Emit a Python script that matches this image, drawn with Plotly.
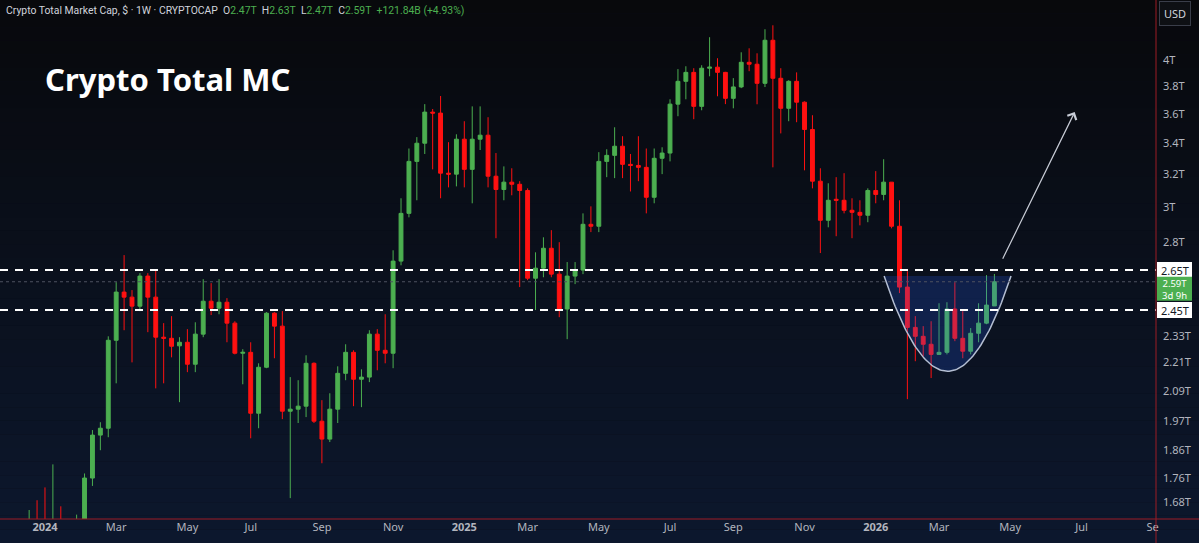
import numpy as np
import pandas as pd
import plotly.graph_objects as go

# ---------------- data (weekly candles, values in trillions USD) ----------------
start_week = "2023-11-27"
opens = [1.46, 1.51, 1.59, 1.57, 1.61, 1.60, 1.58, 1.60, 1.57, 1.54,
         1.58, 1.762, 1.917, 1.943, 2.309, 2.538, 2.513, 2.469, 2.619, 2.513,
         2.323, 2.318, 2.284, 2.300, 2.203, 2.337, 2.493, 2.459, 2.488, 2.388,
         2.251, 2.255, 2.001, 2.190, 2.435, 2.374, 2.009, 2.017, 2.029, 2.207,
         1.970, 1.902, 2.017, 2.164, 2.255, 2.139, 2.148, 2.337, 2.264, 2.251,
         2.697, 2.962, 3.280, 3.399, 3.613, 3.606, 3.205, 3.199, 3.426, 3.229,
         3.426, 3.453, 3.186, 3.104, 3.149, 3.136, 3.098, 2.608, 2.660, 2.766,
         2.629, 2.455, 2.619, 2.650, 2.899, 2.888, 3.280, 3.319, 3.379, 3.261,
         3.254, 3.242, 3.057, 3.300, 3.334, 3.670, 3.838, 3.906, 3.654, 3.938,
         3.946, 3.906, 3.712, 3.796, 3.984, 3.969, 3.823, 4.160, 3.861, 3.640,
         3.838, 3.684, 3.492, 3.155, 2.922, 3.045, 3.039, 2.980, 2.968, 2.951,
         3.098, 3.074, 3.149, 2.888, 2.563, 2.368, 2.327, 2.291, 2.246, 2.255,
         2.455, 2.318, 2.260, 2.341, 2.388, 2.47]
highs = [1.53, 1.625, 1.61, 1.655, 1.687, 1.73, 1.81, 1.667, 1.60, 1.64,
         1.778, 1.936, 1.966, 2.327, 2.588, 2.729, 2.548, 2.634, 2.634, 2.650,
         2.388, 2.421, 2.323, 2.360, 2.392, 2.603, 2.583, 2.603, 2.508, 2.397,
         2.269, 2.300, 2.207, 2.440, 2.440, 2.445, 2.148, 2.135, 2.242, 2.211,
         2.053, 2.081, 2.194, 2.291, 2.264, 2.181, 2.355, 2.360, 2.430, 2.755,
         3.051, 3.364, 3.440, 3.670, 3.635, 3.729, 3.406, 3.459, 3.549, 3.654,
         3.654, 3.577, 3.334, 3.248, 3.236, 3.155, 3.111, 2.744, 2.826, 2.866,
         2.799, 2.692, 2.692, 2.962, 3.003, 3.340, 3.359, 3.507, 3.446, 3.328,
         3.446, 3.364, 3.364, 3.372, 3.705, 3.931, 3.953, 3.938, 3.961, 4.185,
         4.016, 3.910, 3.862, 4.063, 4.095, 4.055, 4.251, 4.284, 3.938, 3.846,
         3.906, 3.690, 3.591, 3.236, 3.142, 3.180, 3.205, 3.051, 3.039, 3.111,
         3.218, 3.294, 3.150, 3.039, 2.644, 2.421, 2.374, 2.397, 2.483, 2.488,
         2.588, 2.445, 2.365, 2.483, 2.624, 2.63]
lows = [1.44, 1.49, 1.52, 1.54, 1.56, 1.52, 1.54, 1.55, 1.49, 1.52,
        1.57, 1.735, 1.861, 1.909, 2.122, 2.355, 2.211, 2.445, 2.346, 2.101,
        2.122, 2.233, 2.045, 2.169, 2.169, 2.323, 2.426, 2.430, 2.300, 2.246,
        2.118, 1.905, 1.943, 2.186, 2.229, 1.978, 1.694, 1.963, 1.986, 1.963,
        1.814, 1.891, 1.963, 2.135, 2.029, 2.025, 2.127, 2.177, 2.207, 2.186,
        2.675, 2.939, 3.039, 3.328, 3.229, 3.051, 3.117, 3.123, 3.117, 3.021,
        3.354, 3.117, 2.821, 3.039, 3.069, 2.563, 2.598, 2.450, 2.613, 2.613,
        2.416, 2.314, 2.578, 2.629, 2.855, 2.855, 3.180, 3.174, 3.174, 3.092,
        3.155, 2.962, 3.021, 3.199, 3.280, 3.584, 3.705, 3.563, 3.626, 3.876,
        3.727, 3.670, 3.640, 3.787, 3.915, 3.669, 3.795, 3.242, 3.465, 3.549,
        3.542, 3.223, 3.111, 2.740, 2.882, 2.832, 2.962, 2.821, 2.893, 2.911,
        3.021, 3.039, 2.876, 2.533, 2.057, 2.216, 2.237, 2.144, 2.246, 2.246,
        2.305, 2.229, 2.246, 2.300, 2.383, 2.47]
closes = [1.51, 1.59, 1.57, 1.61, 1.60, 1.58, 1.60, 1.57, 1.54, 1.58,
          1.762, 1.917, 1.943, 2.309, 2.538, 2.513, 2.469, 2.619, 2.513, 2.323,
          2.318, 2.282, 2.300, 2.203, 2.337, 2.493, 2.459, 2.488, 2.388, 2.251,
          2.255, 2.001, 2.190, 2.435, 2.374, 2.009, 2.017, 2.029, 2.207, 1.970,
          1.902, 2.017, 2.164, 2.255, 2.139, 2.148, 2.337, 2.264, 2.251, 2.697,
          2.962, 3.280, 3.399, 3.613, 3.606, 3.205, 3.199, 3.426, 3.229, 3.426,
          3.453, 3.186, 3.104, 3.149, 3.136, 3.098, 2.608, 2.660, 2.766, 2.629,
          2.455, 2.619, 2.650, 2.899, 2.888, 3.280, 3.319, 3.379, 3.261, 3.254,
          3.242, 3.057, 3.300, 3.334, 3.670, 3.838, 3.906, 3.654, 3.938, 3.946,
          3.906, 3.712, 3.796, 3.984, 3.969, 3.823, 4.160, 3.861, 3.640, 3.838,
          3.684, 3.492, 3.155, 2.922, 3.039, 3.039, 2.980, 2.968, 2.951, 3.098,
          3.074, 3.149, 2.888, 2.563, 2.368, 2.327, 2.291, 2.246, 2.255, 2.455,
          2.318, 2.260, 2.341, 2.388, 2.474, 2.59]
dates = pd.date_range(start_week, periods=len(opens), freq="7D")

levels = [2.65, 2.45]
last_price = 2.59
countdown = "3d 9h"

y_ticks = [1.68, 1.76, 1.86, 1.97, 2.09, 2.21, 2.33, 2.8, 3.0, 3.2, 3.4, 3.6, 3.8, 4.0]
y_tick_text = ["1.68T", "1.76T", "1.86T", "1.97T", "2.09T", "2.21T", "2.33T",
               "2.8T", "3T", "3.2T", "3.4T", "3.6T", "3.8T", "4T"]
x_ticks = ["2024-01-01", "2024-03-04", "2024-05-06", "2024-07-01", "2024-09-02",
           "2024-11-04", "2025-01-06", "2025-03-03", "2025-05-05", "2025-07-07",
           "2025-09-01", "2025-11-03", "2026-01-05", "2026-03-02", "2026-05-04",
           "2026-07-06", "2026-09-07"]
x_tick_text = ["<b>2024</b>", "Mar", "May", "Jul", "Sep", "Nov", "<b>2025</b>",
               "Mar", "May", "Jul", "Sep", "Nov", "<b>2026</b>", "Mar", "May",
               "Jul", "Se"]

# drawing anchors (cup & arrow)
cup_left, cup_right = "2026-01-12 10:00", "2026-05-04 17:00"
cup_top, cup_bottom = 2.619, 2.173
arrow_start = ("2026-04-26 17:00", 2.702)
arrow_end = ("2026-06-30 00:00", 3.613)

# ---------------- layout constants ----------------
x_range = ["2023-11-22 05:00", "2026-09-09 23:00"]
y_range = [1.626, 4.502]
GREEN = "#4caf50"
RED = "#ff1111"
FONT = "Noto Sans"
HFONT = "Roboto"
PLOT_W, PLOT_H = 1156.0, 519.0
LO, HI = np.log10(y_range[0]), np.log10(y_range[1])


def to_paper_y(v):
    return (np.log10(v) - LO) / (HI - LO)


fig = go.Figure()

# background gradient strips
n = 40
top_c = np.array([8, 9, 12])
bot_c = np.array([13, 24, 46])
H_total = 543.0
for k in range(n):
    p0 = k / n
    p1 = (k + 1) / n
    c = top_c + (bot_c - top_c) * ((p0 + p1) / 2)
    y_top = 1 - p0 * H_total / PLOT_H
    y_bot = 1 - p1 * H_total / PLOT_H
    fig.add_shape(type="rect", xref="paper", yref="paper", x0=-0.01, x1=1.05,
                  y0=y_bot, y1=y_top, line_width=0, layer="below",
                  fillcolor="rgb(%d,%d,%d)" % tuple(c.astype(int)))

# cup drawing
lt = pd.Timestamp(cup_left)
rt = pd.Timestamp(cup_right)
center = lt + (rt - lt) / 2
half = (rt - lt) / 2
t = np.linspace(-1, 1, 81)
cup_x = [center + half * v for v in t]
lnt, lnb = np.log(cup_top), np.log(cup_bottom)
cup_y = np.exp(lnt - (1 - t ** 2) * (lnt - lnb))
fig.add_trace(go.Scatter(x=cup_x, y=cup_y, mode="lines", fill="toself",
                         fillcolor="rgba(41,98,255,0.2)", line=dict(width=0),
                         hoverinfo="skip", showlegend=False))
fig.add_trace(go.Scatter(x=cup_x, y=cup_y, mode="lines",
                         line=dict(color="#b4bed2", width=1.5),
                         hoverinfo="skip", showlegend=False))

# current price dotted line
fig.add_trace(go.Scatter(x=x_range, y=[last_price, last_price], mode="lines",
                         line=dict(color="#4e5260", width=1, dash="dot"),
                         hoverinfo="skip", showlegend=False))

# candles
fig.add_trace(go.Candlestick(
    x=dates, open=opens, high=highs, low=lows, close=closes,
    increasing=dict(line=dict(color=GREEN, width=1), fillcolor=GREEN),
    decreasing=dict(line=dict(color=RED, width=1), fillcolor=RED),
    whiskerwidth=0, hoverinfo="skip", showlegend=False))

# level lines
for lv in levels:
    fig.add_trace(go.Scatter(x=x_range, y=[lv, lv], mode="lines",
                             line=dict(color="#ffffff", width=2, dash="8px,7px"),
                             hoverinfo="skip", showlegend=False))

# arrow
fig.add_annotation(x=arrow_end[0], y=np.log10(arrow_end[1]),
                   ax=arrow_start[0], ay=np.log10(arrow_start[1]),
                   xref="x", yref="y", axref="x", ayref="y", text="",
                   showarrow=True, arrowhead=4, arrowsize=1.6, arrowwidth=1.2,
                   arrowcolor="#c8ccd6", standoff=0, startstandoff=0)

# header
hdr = ("Crypto Total Market Cap, $ · 1W · CRYPTOCAP&nbsp; "
       "O<span style='color:%s'>2.47T</span>&nbsp; "
       "H<span style='color:%s'>2.63T</span>&nbsp; "
       "L<span style='color:%s'>2.47T</span>&nbsp; "
       "C<span style='color:%s'>2.59T</span>&nbsp; "
       "<span style='color:%s'>+121.84B (+4.93%%)</span>") % ((GREEN,) * 5)
fig.add_annotation(text=hdr, xref="paper", yref="paper", x=0, y=1,
                   xanchor="left", yanchor="top", xshift=4, yshift=-2,
                   showarrow=False, font=dict(family=HFONT, size=10.4, color="#d1d4dc"))

# title
fig.add_annotation(text="<b>Crypto Total MC</b>", xref="paper", yref="paper",
                   x=43 / PLOT_W, y=1 - 79 / PLOT_H, xanchor="left", yanchor="middle",
                   showarrow=False, font=dict(family=FONT, size=31, color="#ffffff"))

# USD button
fig.add_annotation(text="USD", xref="paper", yref="paper", x=1 + 19 / PLOT_W,
                   y=1 - 13 / PLOT_H, xanchor="center", yanchor="middle",
                   showarrow=False, bgcolor="#0e1014", bordercolor="#3a3e4a",
                   borderwidth=1, borderpad=4,
                   font=dict(family=FONT, size=11, color="#d1d4dc"))

# right-axis price label boxes
bx0, bx1 = 1 + 1 / PLOT_W, 1 + 36 / PLOT_W
bxc = (bx0 + bx1) / 2
for lv in levels:
    py = to_paper_y(lv)
    fig.add_shape(type="rect", xref="paper", yref="paper", x0=bx0, x1=bx1,
                  y0=py - 8 / PLOT_H, y1=py + 8 / PLOT_H, line_width=0,
                  fillcolor="#ffffff")
    fig.add_annotation(text="%.2fT" % lv, xref="paper", yref="paper", x=bxc, y=py,
                       xanchor="center", yanchor="middle", showarrow=False,
                       borderpad=0, font=dict(family=FONT, size=11, color="#131722"))
pyl = to_paper_y(last_price)
fig.add_shape(type="rect", xref="paper", yref="paper", x0=bx0, x1=bx1,
              y0=pyl - 19 / PLOT_H, y1=pyl + 5 / PLOT_H, line_width=0,
              fillcolor=GREEN)
fig.add_annotation(text="%.2fT<br>%s" % (last_price, countdown), xref="paper",
                   yref="paper", x=bxc, y=pyl - 7.5 / PLOT_H, xanchor="center",
                   yanchor="middle", showarrow=False, borderpad=0,
                   font=dict(family=FONT, size=9.5, color="#ffffff"))

# red pane borders
fig.add_shape(type="line", xref="paper", yref="paper", x0=1, x1=1,
              y0=-0.05, y1=1.0, line=dict(color="#9c1c24", width=1))
fig.add_shape(type="line", xref="paper", yref="paper", x0=0, x1=1.04,
              y0=0, y1=0, line=dict(color="#9c1c24", width=1))

fig.update_layout(
    width=1199, height=543,
    margin=dict(l=0, r=43, t=0, b=24),
    paper_bgcolor="rgb(10,14,24)", plot_bgcolor="rgba(0,0,0,0)",
    showlegend=False, hovermode=False,
    font=dict(family=FONT, color="#b2b5be"),
    xaxis=dict(type="date", range=x_range, tickvals=x_ticks, ticktext=x_tick_text,
               showgrid=False, zeroline=False, showline=False, ticks="",
               rangeslider=dict(visible=False), fixedrange=True,
               tickfont=dict(family=FONT, size=11, color="#b2b5be")),
    yaxis=dict(type="log", side="right", range=[LO, HI],
               tickvals=y_ticks, ticktext=y_tick_text, showgrid=False,
               zeroline=False, showline=False, ticks="", fixedrange=True,
               ticklabelstandoff=6,
               tickfont=dict(family=FONT, size=11, color="#b2b5be")),
)

fig.write_html("out.html", config={"displayModeBar": False},
               post_script="document.body.style.margin='0';document.body.style.padding='0';")
